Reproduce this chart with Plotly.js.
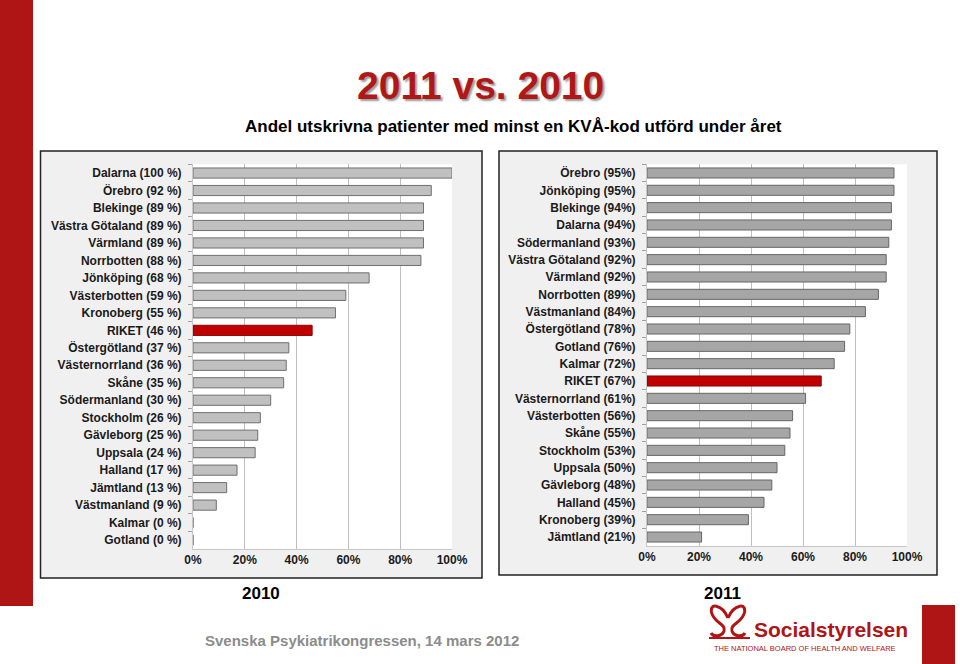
<!DOCTYPE html>
<html>
<head>
<meta charset="utf-8">
<script src="https://cdn.plot.ly/plotly-3.0.1.min.js"></script>
<style>html,body{margin:0;padding:0;background:#fff;}#chart{width:960px;height:664px;}</style>
</head>
<body>
<div id="chart"></div>
<script>
// ---- data ----
var regions2010 = ["Dalarna","Örebro","Blekinge","Västra Götaland","Värmland","Norrbotten","Jönköping","Västerbotten","Kronoberg","RIKET","Östergötland","Västernorrland","Skåne","Södermanland","Stockholm","Gävleborg","Uppsala","Halland","Jämtland","Västmanland","Kalmar","Gotland"];
var values2010 = [100,92,89,89,89,88,68,59,55,46,37,36,35,30,26,25,24,17,13,9,0,0];
var regions2011 = ["Örebro","Jönköping","Blekinge","Dalarna","Södermanland","Västra Götaland","Värmland","Norrbotten","Västmanland","Östergötland","Gotland","Kalmar","RIKET","Västernorrland","Västerbotten","Skåne","Stockholm","Uppsala","Gävleborg","Halland","Kronoberg","Jämtland"];
var values2011 = [95,95,94,94,93,92,92,89,84,78,76,72,67,61,56,55,53,50,48,45,39,21];
var xTickVals = [0,20,40,60,80,100];
var xTickText = ["0%","20%","40%","60%","80%","100%"];

var labels2010 = regions2010.map(function(r,i){return r+" ("+values2010[i]+" %)";});
var labels2011 = regions2011.map(function(r,i){return r+" ("+values2011[i]+"%)";});

var W = 960, H = 664;
function px(x){return x/W;}
function py(y){return 1-y/H;}
function P(x,y){return px(x)+","+py(y);}

var RED = "#c00000";
var tr2010 = {
  type:"bar", orientation:"h", x: values2010, y: labels2010, xaxis:"x", yaxis:"y",
  marker:{color: regions2010.map(function(r){return r==="RIKET"?RED:"#c0c0c0";}),
          line:{color: regions2010.map(function(r){return r==="RIKET"?"#8a0000":"#6f6f6f";}), width:1}},
  hoverinfo:"none"
};
var tr2011 = {
  type:"bar", orientation:"h", x: values2011, y: labels2011, xaxis:"x2", yaxis:"y2",
  marker:{color: regions2011.map(function(r){return r==="RIKET"?RED:"#a6a6a6";}),
          line:{color: regions2011.map(function(r){return r==="RIKET"?"#8a0000":"#666666";}), width:1}},
  hoverinfo:"none"
};

var tickFont = {family:"Liberation Sans, Arial, sans-serif", size:12, color:"#1a1a1a", weight:"bold"};
function xax(domain, anchor){
  return {domain:domain, anchor:anchor, range:[0,100], tickvals:xTickVals, ticktext:xTickText,
    showgrid:true, gridcolor:"#bfbfbf", gridwidth:1, zeroline:false, showline:true, linecolor:"#c8c8c8",
    ticks:"", tickfont:tickFont, fixedrange:true};
}
function yax(domain, anchor){
  return {domain:domain, anchor:anchor, type:"category", autorange:"reversed",
    showgrid:false, zeroline:false, showline:true, linecolor:"#c8c8c8",
    ticks:"outside", tickson:"boundaries", ticklen:4, tickcolor:"#a0a0a0",
    ticklabelstandoff:8, tickfont:tickFont, fixedrange:true};
}

var LOGO = "#b01515";
var shapes = [
  {type:"rect", xref:"paper", yref:"paper", x0:0, x1:px(33), y0:py(606), y1:1, fillcolor:"#b01515", line:{width:0}, layer:"below"},
  {type:"rect", xref:"paper", yref:"paper", x0:px(922), x1:px(955), y0:0, y1:py(605), fillcolor:"#b01515", line:{width:0}, layer:"below"},
  {type:"rect", xref:"paper", yref:"paper", x0:px(40.5), x1:px(482), y0:py(578), y1:py(151), fillcolor:"#f0f0f0", line:{color:"#222", width:1.5}, layer:"below"},
  {type:"rect", xref:"paper", yref:"paper", x0:px(499), x1:px(937), y0:py(575), y1:py(151), fillcolor:"#f0f0f0", line:{color:"#222", width:1.5}, layer:"below"},
  {type:"rect", xref:"paper", yref:"paper", x0:px(193), x1:px(452), y0:py(548.8), y1:py(164.3), fillcolor:"#ffffff", line:{width:0}, layer:"below"},
  {type:"rect", xref:"paper", yref:"paper", x0:px(647), x1:px(907), y0:py(545.7), y1:py(164.3), fillcolor:"#ffffff", line:{width:0}, layer:"below"},
  // logo symbol (simplified heart + two S curves + base)
  {type:"path", xref:"paper", yref:"paper", layer:"above",
   path:"M "+P(728,618)+" C "+P(722,604)+" "+P(708,602)+" "+P(712,614)+" C "+P(716,624)+" "+P(726,624)+" "+P(724,631)+" C "+P(722,637)+" "+P(713,637)+" "+P(711,633),
   line:{color:LOGO, width:3}},
  {type:"path", xref:"paper", yref:"paper", layer:"above",
   path:"M "+P(728,618)+" C "+P(734,604)+" "+P(748,602)+" "+P(744,614)+" C "+P(740,624)+" "+P(730,624)+" "+P(732,631)+" C "+P(734,637)+" "+P(743,637)+" "+P(745,633),
   line:{color:LOGO, width:3}},
  {type:"path", xref:"paper", yref:"paper", layer:"above",
   path:"M "+P(709,638)+" L "+P(750,638),
   line:{color:LOGO, width:2}}
];

var fam = "Liberation Sans, Arial, sans-serif";
var annotations = [
  {text:"2011 vs. 2010", xref:"paper", yref:"paper", x:px(480), y:py(85), xanchor:"center", yanchor:"middle", showarrow:false,
   font:{family:fam, size:39, color:"#b01818", weight:"bold", shadow:"2px 2px 2px #9a9a9a"}},
  {text:"Andel utskrivna patienter med minst en KVÅ-kod utförd under året", xref:"paper", yref:"paper", x:px(513), y:py(126), xanchor:"center", yanchor:"middle", showarrow:false,
   font:{family:fam, size:17, color:"#000", weight:"bold"}},
  {text:"2010", xref:"paper", yref:"paper", x:px(261), y:py(593), xanchor:"center", yanchor:"middle", showarrow:false,
   font:{family:fam, size:17, color:"#000", weight:"bold"}},
  {text:"2011", xref:"paper", yref:"paper", x:px(722), y:py(593), xanchor:"center", yanchor:"middle", showarrow:false,
   font:{family:fam, size:17, color:"#000", weight:"bold"}},
  {text:"Svenska Psykiatrikongressen, 14 mars 2012", xref:"paper", yref:"paper", x:px(362), y:py(640), xanchor:"center", yanchor:"middle", showarrow:false,
   font:{family:fam, size:15, color:"#8c8c8c", weight:"bold"}},
  {text:"Socialstyrelsen", xref:"paper", yref:"paper", x:px(752), y:py(629), xanchor:"left", yanchor:"middle", showarrow:false,
   font:{family:fam, size:21, color:LOGO, weight:"bold"}},
  {text:"THE NATIONAL BOARD OF HEALTH AND WELFARE", xref:"paper", yref:"paper", x:px(805), y:py(648), xanchor:"center", yanchor:"middle", showarrow:false,
   font:{family:fam, size:7.5, color:LOGO}}
];

var layout = {
  width:W, height:H, margin:{l:0,r:0,t:0,b:0},
  paper_bgcolor:"#ffffff", plot_bgcolor:"rgba(0,0,0,0)",
  showlegend:false, bargap:0.42,
  xaxis: xax([px(193), px(452)], "y"),
  yaxis: yax([py(548.8), py(164.3)], "x"),
  xaxis2: xax([px(647), px(907)], "y2"),
  yaxis2: yax([py(545.7), py(164.3)], "x2"),
  shapes: shapes, annotations: annotations
};

Plotly.newPlot("chart", [tr2010, tr2011], layout, {displayModeBar:false, staticPlot:true});
</script>
</body>
</html>
